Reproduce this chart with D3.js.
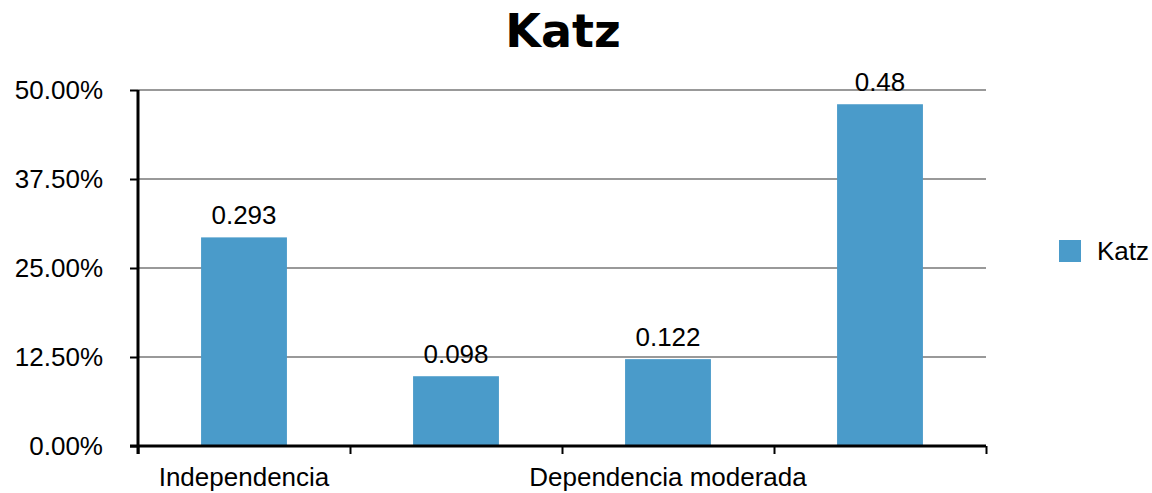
<!DOCTYPE html>
<html>
<head>
<meta charset="utf-8">
<script src="https://cdn.jsdelivr.net/npm/d3@7"></script>
<style>
  body { margin: 0; background: #fff; }
  text { font-family: "Liberation Sans", Arial, sans-serif; }
</style>
</head>
<body>
<div id="chart"></div>
<script>
// data
var categoryLabels = ["Independencia", "", "Dependencia moderada", ""];
var katzValues = [0.293, 0.098, 0.122, 0.48];
var valueLabels = ["0.293", "0.098", "0.122", "0.48"];
var yTicks = [0, 0.125, 0.25, 0.375, 0.5];
var seriesName = "Katz";

var width = 1152, height = 493;
var plotLeft = 138, plotRight = 986, plotTop = 90, plotBottom = 446;
var barColor = "#4a9bca";
var fontSize = "26px";

var svg = d3.select("#chart").append("svg")
    .attr("width", width)
    .attr("height", height);

var x = d3.scaleLinear().domain([0, categoryLabels.length]).range([plotLeft, plotRight]);
var y = d3.scaleLinear().domain([0, 0.5]).range([plotBottom, plotTop]);

// title
svg.append("text")
    .attr("x", 563).attr("y", 47)
    .attr("text-anchor", "middle")
    .style("font-family", "'DejaVu Sans', sans-serif")
    .style("font-weight", "bold")
    .style("font-size", "46px")
    .text(seriesName);

// grid
svg.append("g").selectAll("line")
    .data(yTicks.filter(function(d) { return d > 0; }))
    .enter().append("line")
    .attr("x1", plotLeft).attr("x2", plotRight)
    .attr("y1", function(d) { return y(d); })
    .attr("y2", function(d) { return y(d); })
    .attr("stroke", "#999")
    .attr("stroke-width", 2);

// bars
var barW = (x(1) - x(0)) * 0.405;
svg.append("g").selectAll("rect")
    .data(katzValues)
    .enter().append("rect")
    .attr("x", function(d, i) { return x(i + 0.5) - barW / 2; })
    .attr("y", function(d) { return y(d); })
    .attr("width", barW)
    .attr("height", function(d) { return plotBottom - y(d); })
    .attr("fill", barColor);

svg.append("g").selectAll("text")
    .data(katzValues)
    .enter().append("text")
    .attr("x", function(d, i) { return x(i + 0.5); })
    .attr("y", function(d) { return y(d) - 13; })
    .attr("text-anchor", "middle")
    .style("font-size", fontSize)
    .text(function(d, i) { return valueLabels[i]; });

// y axis
var yAxis = svg.append("g")
    .attr("transform", "translate(" + plotLeft + ",0)")
    .call(d3.axisLeft(y).tickValues(yTicks).tickFormat(d3.format(".2%"))
      .tickSize(8).tickSizeOuter(0).tickPadding(27));
yAxis.selectAll("text").style("font-size", fontSize).attr("fill", "#000")
    .style("font-family", "'Liberation Sans', Arial, sans-serif");
yAxis.selectAll("line").attr("stroke", "#000").attr("stroke-width", 2);
yAxis.select(".domain").attr("stroke", "#000").attr("stroke-width", 3)
    .attr("d", "M0," + plotTop + "V" + (plotBottom + 8));

// x axis
var xAxis = svg.append("g")
    .attr("transform", "translate(0," + plotBottom + ")")
    .call(d3.axisBottom(x).ticks(categoryLabels.length).tickFormat("")
      .tickSize(8).tickSizeOuter(0));
xAxis.selectAll("line").attr("stroke", "#000").attr("stroke-width", 2);
xAxis.select(".domain").attr("stroke", "#000").attr("stroke-width", 3)
    .attr("d", "M" + (plotLeft - 8) + ",0H" + plotRight);

svg.append("g").selectAll("text")
    .data(categoryLabels)
    .enter().append("text")
    .attr("x", function(d, i) { return x(i + 0.5); })
    .attr("y", 486)
    .attr("text-anchor", "middle")
    .style("font-size", fontSize)
    .text(function(d) { return d; });

// legend
var legend = svg.append("g").attr("transform", "translate(1059,240)");
legend.append("rect").attr("width", 22).attr("height", 22).attr("fill", barColor);
legend.append("text").attr("x", 38).attr("y", 20)
    .style("font-size", fontSize)
    .text(seriesName);
</script>
</body>
</html>
